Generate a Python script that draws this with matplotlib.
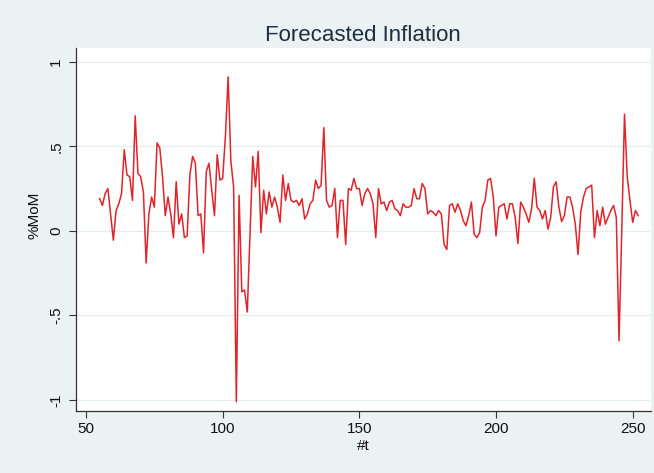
import matplotlib
matplotlib.use("Agg")
import matplotlib.pyplot as plt
import numpy as np

# time index (#t) and forecasted inflation (%MoM)
t_start = 55
inflation = [
    0.19, 0.15, 0.22, 0.25, 0.10, -0.055, 0.12, 0.16, 0.22, 0.48,   # 55-64
    0.33, 0.32, 0.18, 0.68, 0.34, 0.32, 0.23, -0.19, 0.10, 0.20,    # 65-74
    0.14, 0.52, 0.49, 0.32, 0.09, 0.20, 0.10, -0.04, 0.29, 0.04,    # 75-84
    0.10, -0.04, -0.03, 0.33, 0.44, 0.40, 0.09, 0.10, -0.13, 0.35,  # 85-94
    0.40, 0.24, 0.09, 0.45, 0.30, 0.31, 0.56, 0.91, 0.41, 0.26,     # 95-104
    -1.01, 0.21, -0.36, -0.35, -0.48, -0.02, 0.44, 0.26, 0.47, -0.01,  # 105-114
    0.24, 0.10, 0.23, 0.14, 0.20, 0.14, 0.05, 0.33, 0.18, 0.28,     # 115-124
    0.18, 0.17, 0.18, 0.15, 0.19, 0.07, 0.10, 0.16, 0.18, 0.30,     # 125-134
    0.25, 0.27, 0.61, 0.18, 0.14, 0.15, 0.25, -0.04, 0.18, 0.18,    # 135-144
    -0.08, 0.25, 0.24, 0.31, 0.25, 0.25, 0.15, 0.22, 0.25, 0.22,    # 145-154
    0.16, -0.04, 0.25, 0.16, 0.17, 0.12, 0.17, 0.18, 0.13, 0.12,    # 155-164
    0.09, 0.16, 0.14, 0.14, 0.15, 0.25, 0.19, 0.19, 0.28, 0.25,     # 165-174
    0.10, 0.12, 0.11, 0.09, 0.12, 0.10, -0.08, -0.11, 0.15, 0.16,   # 175-184
    0.11, 0.16, 0.12, 0.06, 0.03, 0.09, 0.17, -0.02, -0.04, -0.01,  # 185-194
    0.14, 0.18, 0.30, 0.31, 0.20, -0.03, 0.14, 0.15, 0.16, 0.07,    # 195-204
    0.16, 0.16, 0.08, -0.075, 0.17, 0.14, 0.10, 0.05, 0.13, 0.31,   # 205-214
    0.14, 0.12, 0.07, 0.12, 0.01, 0.08, 0.26, 0.29, 0.14, 0.055,    # 215-224
    0.09, 0.20, 0.20, 0.14, 0.04, -0.14, 0.11, 0.20, 0.25, 0.26,    # 225-234
    0.27, -0.04, 0.12, 0.03, 0.14, 0.04, 0.08, 0.12, 0.15, 0.08,    # 235-244
    -0.65, 0.00, 0.69, 0.32, 0.18, 0.05, 0.12, 0.09,                # 245-252
]
t = np.arange(t_start, t_start + len(inflation))

x_ticks = [50, 100, 150, 200, 250]
y_ticks = [-1, -0.5, 0, 0.5, 1]
y_tick_labels = ["-1", "-.5", "0", ".5", "1"]

plt.rcParams['font.family'] = ['Liberation Sans', 'DejaVu Sans']

W, H = 654, 473
fig = plt.figure(figsize=(W / 100, H / 100), dpi=100)
fig.patch.set_facecolor('#EAF2F3')

left, right, top, bottom = 75.7, 650.7, 48, 411
ax = fig.add_axes([left / W, 1 - bottom / H, (right - left) / W, (bottom - top) / H])
ax.set_facecolor('white')

ax.plot(t, inflation, color='#E0242B', linewidth=1.1)

# scale: 50 -> px 86, 250 -> px 632.7 ; 1 -> px 61.7, -1 -> px 400
pxu = (632.7 - 86) / 200
ax.set_xlim(50 - (86 - left) / pxu, 250 + (right - 632.7) / pxu)
pyu = (400 - 61.7) / 2
ax.set_ylim(-1 - (bottom - 400) / pyu, 1 + (61.7 - top) / pyu)

ax.set_xticks(x_ticks)
ax.set_yticks(y_ticks)
ax.set_yticklabels(y_tick_labels, rotation=90, va='center')
ax.tick_params(axis='both', direction='out', length=5, width=0.8, color='#333333',
               labelsize=11, labelcolor='#111111')
ax.tick_params(axis='y', pad=4)
ax.tick_params(axis='x', pad=3)

ax.grid(axis='y', color='#E4ECEE', linewidth=0.9)
ax.set_axisbelow(True)

for s in ['top', 'right']:
    ax.spines[s].set_visible(False)
for s in ['left', 'bottom']:
    ax.spines[s].set_color('#333333')
    ax.spines[s].set_linewidth(0.9)

ax.set_title("Forecasted Inflation", fontsize=16, color='#1E2E40', pad=5)
ax.set_xlabel("#t", fontsize=11, color='#111111', labelpad=2)
ax.set_ylabel("%MoM", fontsize=11, color='#111111')
ax.yaxis.set_label_coords(-0.06, (bottom - 215) / (bottom - top))

fig.savefig("out.png", dpi=100, facecolor=fig.get_facecolor())
